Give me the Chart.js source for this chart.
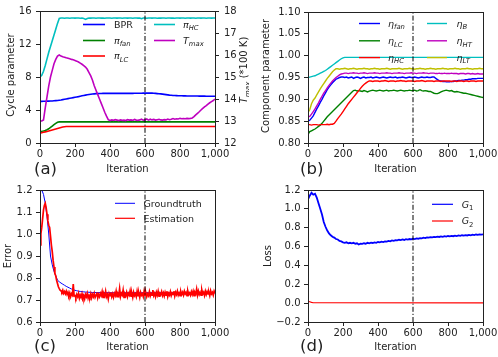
<!DOCTYPE html>
<html><head><meta charset="utf-8">
<script src="https://cdn.jsdelivr.net/npm/chart.js@4/dist/chart.umd.min.js"></script>
<style>
html,body{margin:0;padding:0;background:#fff;}
#wrap{position:relative;width:498px;height:357px;overflow:hidden;background:#fff;}
canvas{position:absolute;display:block;}
</style></head><body>
<div id="wrap">
<canvas id="ca" width="249" height="178" style="left:0;top:0;width:249px;height:178px"></canvas>
<canvas id="cb" width="249" height="178" style="left:249px;top:0;width:249px;height:178px"></canvas>
<canvas id="cc" width="249" height="179" style="left:0;top:178px;width:249px;height:179px"></canvas>
<canvas id="cd" width="249" height="179" style="left:249px;top:178px;width:249px;height:179px"></canvas>
</div>
<script>
// ---------------- DATA ----------------
const SPLIT_ITER = 600;          // dash-dot marker
const STEP = 10;                 // iteration spacing of dense series
const STEP_EST = 5;              // iteration spacing of the noisy estimation series

// (a) cycle parameters (left axis) and Tmax (right axis, *100 K)
const bpr = [
 5.05,5.05,5.06,5.06,5.07,5.08,5.09,5.10,5.12,5.14,
 5.16,5.19,5.22,5.26,5.30,5.34,5.38,5.42,5.46,5.50,
 5.54,5.58,5.62,5.67,5.72,5.76,5.80,5.84,5.88,5.91,
 5.94,5.96,5.98,5.99,6.00,6.00,6.01,6.01,6.01,6.02,
 6.02,6.02,6.02,6.02,6.02,6.02,6.02,6.02,6.02,6.02,
 6.02,6.02,6.02,6.02,6.03,6.03,6.03,6.03,6.03,6.04,
 6.04,6.05,6.05,6.05,6.04,6.03,6.01,5.99,5.97,5.95,
 5.92,5.89,5.86,5.83,5.80,5.78,5.76,5.75,5.74,5.73,
 5.72,5.72,5.71,5.71,5.70,5.70,5.70,5.69,5.69,5.69,
 5.69,5.68,5.68,5.68,5.68,5.67,5.67,5.67,5.67,5.66,
 5.66];
const piFanIter = [0,10,20,30,40,50,60,70,80,90,100,110,1000];
const piFan     = [1.40,1.42,1.46,1.52,1.60,1.72,1.88,2.05,2.22,2.38,2.52,2.56,2.56];
const piLcIter  = [0,10,20,30,40,50,60,70,80,90,100,110,120,130,140,150,1000];
const piLc      = [1.20,1.25,1.30,1.35,1.40,1.46,1.52,1.58,1.64,1.70,1.76,1.82,1.88,1.93,1.97,2.00,2.00];
const piHc = [
 8.0,8.2,8.7,9.4,10.2,11.0,11.7,12.4,13.1,13.8,
 14.5,15.1,15.15,15.15,15.12,15.15,15.15,15.13,15.15,15.15,
 15.14,15.15,15.15,15.13,15.15,15.1,14.98,15.08,15.15,15.14,
 15.15,15.15,15.13,15.15,15.15,15.14,15.15,15.12,15.15,15.15,
 15.15,15.13,15.15,15.15,15.14,15.15,15.15,15.13,15.15,15.15,
 15.14,15.15,15.15,15.12,15.15,15.15,15.14,15.15,15.06,15.15,
 15.15,15.13,15.15,15.15,15.14,15.15,15.15,15.13,15.15,15.14,
 15.15,15.15,15.13,15.15,15.15,15.14,15.15,15.12,15.15,15.15,
 15.14,15.15,15.15,15.13,15.15,15.15,15.14,15.15,15.15,15.13,
 15.15,15.15,15.14,15.15,15.15,15.13,15.15,15.15,15.14,15.15,
 15.15];
const tMax = [
 13.0,13.0,13.05,13.6,14.1,14.6,15.0,15.3,15.6,15.8,
 15.95,16.0,15.95,15.92,15.9,15.87,15.85,15.83,15.8,15.78,
 15.75,15.72,15.68,15.63,15.58,15.52,15.45,15.35,15.2,15.05,
 14.85,14.6,14.4,14.2,14.0,13.8,13.6,13.4,13.22,13.06,
 13.02,13.05,13.03,13.06,13.04,13.02,13.05,13.03,13.04,13.02,
 13.06,13.04,13.05,13.03,13.07,13.04,13.03,13.05,13.08,13.04,
 13.05,13.09,13.04,13.08,13.05,13.07,13.04,13.06,13.08,13.05,
 13.04,13.06,13.05,13.09,13.06,13.08,13.11,13.08,13.1,13.09,
 13.12,13.1,13.11,13.1,13.12,13.11,13.12,13.14,13.2,13.28,
 13.35,13.42,13.5,13.57,13.64,13.7,13.77,13.83,13.88,13.93,
 14.0];

// (b) component parameters
const etaFan = [
 0.850,0.852,0.857,0.862,0.870,0.878,0.885,0.893,0.900,0.908,
 0.915,0.922,0.928,0.933,0.938,0.942,0.946,0.948,0.950,0.951,
 0.951,0.950,0.951,0.949,0.950,0.951,0.948,0.950,0.951,0.950,
 0.948,0.950,0.951,0.949,0.950,0.950,0.951,0.949,0.950,0.951,
 0.950,0.949,0.950,0.951,0.950,0.949,0.950,0.951,0.950,0.950,
 0.951,0.949,0.950,0.950,0.951,0.950,0.949,0.950,0.951,0.950,
 0.950,0.951,0.950,0.949,0.950,0.951,0.950,0.950,0.951,0.950,
 0.950,0.951,0.951,0.948,0.945,0.943,0.942,0.941,0.941,0.940,
 0.940,0.940,0.941,0.941,0.942,0.942,0.943,0.943,0.944,0.944,
 0.945,0.945,0.946,0.946,0.947,0.947,0.947,0.948,0.948,0.948,
 0.948];
const etaLc = [
 0.820,0.826,0.828,0.830,0.832,0.835,0.838,0.841,0.845,0.850,
 0.855,0.860,0.864,0.868,0.872,0.876,0.880,0.884,0.888,0.892,
 0.896,0.900,0.904,0.908,0.912,0.916,0.920,0.921,0.919,0.920,
 0.919,0.918,0.920,0.919,0.917,0.919,0.920,0.921,0.920,0.919,
 0.920,0.921,0.920,0.919,0.920,0.921,0.919,0.920,0.920,0.921,
 0.920,0.919,0.920,0.921,0.920,0.919,0.920,0.920,0.921,0.920,
 0.920,0.921,0.919,0.920,0.922,0.920,0.919,0.920,0.919,0.918,
 0.918,0.916,0.914,0.913,0.913,0.915,0.917,0.919,0.920,0.921,
 0.920,0.919,0.920,0.918,0.917,0.918,0.917,0.916,0.915,0.914,
 0.914,0.913,0.912,0.911,0.910,0.909,0.908,0.907,0.906,0.905,
 0.904];
const etaHc = [
 0.842,0.842,0.841,0.842,0.842,0.842,0.841,0.842,0.842,0.842,
 0.842,0.843,0.842,0.843,0.843,0.845,0.850,0.856,0.861,0.866,
 0.872,0.878,0.884,0.890,0.895,0.900,0.905,0.910,0.915,0.920,
 0.925,0.930,0.934,0.937,0.940,0.942,0.942,0.941,0.942,0.942,
 0.942,0.941,0.942,0.942,0.943,0.942,0.941,0.942,0.942,0.942,
 0.941,0.942,0.942,0.943,0.942,0.942,0.941,0.942,0.942,0.942,
 0.942,0.941,0.942,0.942,0.942,0.943,0.942,0.941,0.942,0.942,
 0.942,0.942,0.941,0.942,0.942,0.942,0.941,0.942,0.942,0.942,
 0.942,0.942,0.941,0.942,0.942,0.941,0.942,0.942,0.942,0.941,
 0.942,0.942,0.941,0.942,0.942,0.942,0.941,0.942,0.942,0.942,
 0.942];
const etaBIter = [0,10,20,30,40,50,60,70,80,90,100,110,120,130,140,150,160,170,180,190,200,210,1000];
const etaB     = [0.950,0.951,0.952,0.953,0.954,0.956,0.958,0.960,0.962,0.964,0.966,0.969,0.972,0.975,0.978,0.981,0.984,0.987,0.990,0.993,0.995,0.996,0.996];
const etaHt = [
 0.860,0.861,0.866,0.872,0.878,0.885,0.892,0.900,0.907,0.914,
 0.920,0.926,0.932,0.937,0.942,0.946,0.950,0.953,0.956,0.958,
 0.959,0.960,0.960,0.959,0.960,0.960,0.961,0.960,0.960,0.959,
 0.960,0.960,0.961,0.960,0.959,0.960,0.960,0.960,0.961,0.960,
 0.960,0.959,0.960,0.960,0.960,0.961,0.960,0.960,0.959,0.960,
 0.960,0.960,0.961,0.960,0.960,0.959,0.960,0.960,0.960,0.961,
 0.960,0.960,0.959,0.960,0.960,0.960,0.961,0.960,0.960,0.959,
 0.960,0.960,0.960,0.959,0.959,0.960,0.959,0.959,0.960,0.959,
 0.959,0.959,0.960,0.959,0.959,0.959,0.958,0.959,0.959,0.959,
 0.958,0.959,0.959,0.958,0.959,0.958,0.958,0.959,0.958,0.958,
 0.958];
const etaLt = [
 0.870,0.876,0.890,0.898,0.903,0.910,0.917,0.924,0.930,0.936,
 0.942,0.948,0.953,0.958,0.963,0.967,0.970,0.970,0.969,0.970,
 0.970,0.971,0.970,0.969,0.970,0.970,0.971,0.970,0.969,0.970,
 0.970,0.970,0.971,0.970,0.970,0.969,0.970,0.970,0.971,0.970,
 0.970,0.969,0.970,0.970,0.970,0.971,0.970,0.969,0.970,0.970,
 0.970,0.970,0.971,0.970,0.969,0.970,0.970,0.970,0.971,0.970,
 0.970,0.969,0.970,0.970,0.971,0.970,0.970,0.969,0.970,0.970,
 0.971,0.970,0.970,0.969,0.970,0.970,0.970,0.971,0.970,0.970,
 0.969,0.970,0.970,0.970,0.971,0.970,0.970,0.969,0.970,0.970,
 0.970,0.971,0.970,0.970,0.969,0.970,0.970,0.970,0.971,0.970,
 0.970];

// (c) error
const truthIter = [0,10,20,30,40,50,60,70,80,90,100,110,120,130,140,150,160,170,180,190,200,210,220,230,240,250,260,270,280,290,300,400,600,800,1000];
const groundtruth = [1.19,1.20,1.18,1.14,1.08,1.00,0.90,0.86,0.83,0.81,0.790,0.783,0.777,0.772,0.767,0.762,0.758,0.754,0.750,0.747,0.744,0.742,0.740,0.739,0.738,0.737,0.736,0.736,0.735,0.735,0.734,0.733,0.733,0.733,0.733];
const estimation = [
 0.95,1.00,1.03,1.07,1.11,1.13,1.14,1.12,1.09,1.06,1.04,1.03,0.99,0.95,0.92,0.88,0.85,0.82,0.81,0.79,
 0.775,0.760,0.752,0.745,0.742,0.736,0.745,0.730,0.738,0.728,0.740,0.725,0.735,0.720,0.732,0.715,0.728,0.722,0.772,0.718,
 0.720,0.710,0.725,0.715,0.730,0.708,0.722,0.712,0.728,0.710,0.720,0.705,0.725,0.715,0.730,0.708,0.720,0.712,0.728,0.710,
 0.725,0.715,0.730,0.712,0.722,0.735,0.710,0.725,0.715,0.730,0.720,0.738,0.712,0.728,0.718,0.740,0.715,0.725,0.705,0.730,
 0.720,0.735,0.715,0.728,0.712,0.730,0.720,0.740,0.715,0.728,0.720,0.752,0.715,0.730,0.722,0.745,0.712,0.728,0.720,0.735,
 0.715,0.730,0.722,0.742,0.718,0.730,0.712,0.735,0.720,0.728,0.715,0.740,0.720,0.730,0.712,0.735,0.722,0.728,0.715,0.740,
 0.720,0.732,0.715,0.728,0.720,0.738,0.718,0.730,0.722,0.745,0.720,0.730,0.715,0.735,0.722,0.740,0.718,0.730,0.725,0.738,
 0.720,0.732,0.718,0.735,0.722,0.740,0.715,0.730,0.722,0.738,0.720,0.732,0.725,0.740,0.718,0.735,0.725,0.740,0.722,0.732,
 0.720,0.738,0.725,0.735,0.722,0.740,0.728,0.735,0.720,0.740,0.725,0.732,0.722,0.738,0.725,0.740,0.720,0.735,0.728,0.750,
 0.722,0.740,0.725,0.735,0.722,0.745,0.728,0.735,0.720,0.740,0.725,0.738,0.728,0.735,0.720,0.742,0.728,0.735,0.722,0.740,
 0.730];

// (d) loss
const g1 = [
 1.10,1.14,1.17,1.15,1.16,1.12,1.06,1.00,0.94,0.86,
 0.81,0.77,0.74,0.72,0.705,0.695,0.68,0.675,0.66,0.655,
 0.645,0.64,0.645,0.635,0.64,0.635,0.64,0.63,0.635,0.622,
 0.63,0.628,0.635,0.63,0.64,0.635,0.642,0.638,0.645,0.64,
 0.648,0.645,0.652,0.648,0.655,0.652,0.66,0.655,0.665,0.66,
 0.668,0.665,0.672,0.668,0.675,0.67,0.678,0.674,0.68,0.676,
 0.684,0.68,0.686,0.683,0.69,0.688,0.694,0.69,0.698,0.695,
 0.70,0.698,0.703,0.70,0.705,0.702,0.708,0.704,0.71,0.706,
 0.712,0.708,0.714,0.71,0.716,0.712,0.718,0.714,0.72,0.716,
 0.722,0.718,0.724,0.72,0.726,0.722,0.728,0.724,0.73,0.726,
 0.73];
const g2Iter = [0,10,20,30,1000];
const g2     = [0.02,0.015,0.008,0.004,0.003];

// ---------------- STYLE / HELPERS ----------------
const FONT = '"DejaVu Sans", "Liberation Sans", sans-serif';
const TXT = '#222';
const C = {b:'#0000ff', g:'#008000', r:'#ff0000', c:'#00bfbf', m:'#bf00bf', y:'#bfbf00'};
Chart.defaults.font.family = FONT;

function pts(vals, step){ return vals.map((v,i)=>({x:i*step, y:v})); }
function zip(xs, ys){ return xs.map((x,i)=>({x:x, y:ys[i]})); }
function line(label, data, color, width, order, axis){
  return {label, data, borderColor:color, backgroundColor:color, borderWidth:width,
    pointRadius:0, tension:0, fill:false, order, yAxisID: axis||'y'};
}
function vline(lo, hi){
  return {label:'split', data:[{x:SPLIT_ITER,y:lo},{x:SPLIT_ITER,y:hi}], borderColor:'#000',
    borderWidth:1, borderDash:[5,2,1.2,2], pointRadius:0, order:0, yAxisID:'y'};
}
function xScale(h){
  return {type:'linear', min:0, max:1000,
    ticks:{stepSize:200, color:TXT, font:{family:FONT,size:10}, padding:1, maxRotation:0, autoSkip:false},
    grid:{drawOnChartArea:false, drawTicks:true, tickLength:4, color:'#222', lineWidth:1},
    border:{display:false},
    afterFit(s){ s.height=h; s.paddingLeft=0; s.paddingRight=0; }};
}
function yScale(min, max, step, fmt, w, pos, pad){
  return {type:'linear', position:pos||'left', min, max,
    ticks:{stepSize:step, color:TXT, font:{family:FONT,size:10}, padding:pad||4, callback:fmt, autoSkip:false},
    grid:{drawOnChartArea:false, drawTicks:true, tickLength:4, color:'#222', lineWidth:1},
    border:{display:false},
    afterFit(s){ s.width=w; s.paddingTop=0; s.paddingBottom=0; }};
}
const fInt = v => String(Math.round(v));
const f2 = v => v.toFixed(2);
const f1 = v => { const s = (Math.abs(v)<1e-9?0:v).toFixed(1); return s.replace('-', '\u2212'); };

function fontFor(st, size){
  const sub = st.indexOf('s')>=0, it = st.indexOf('i')>=0;
  return (it?'italic ':'') + (sub? size*0.72 : size).toFixed(2) + 'px ' + FONT;
}
function richWidth(ctx, parts, size){
  let w=0; for(const p of parts){ ctx.font=fontFor(p[1],size); w+=ctx.measureText(p[0]).width; } return w;
}
function drawRich(ctx, parts, x, yMid, size, center){
  ctx.textBaseline='alphabetic'; ctx.textAlign='left'; ctx.fillStyle=TXT;
  let cx = center ? x - richWidth(ctx,parts,size)/2 : x;
  const base = yMid + size*0.36;
  for(const p of parts){
    const sub = p[1].indexOf('s')>=0;
    ctx.font = fontFor(p[1], size);
    ctx.fillText(p[0], cx, base + (sub? size*0.24 : 0));
    cx += ctx.measureText(p[0]).width;
  }
}
function decor(d){
  return {id:'decor', afterDraw(chart){
    const ctx = chart.ctx, a = chart.chartArea;
    ctx.save();
    ctx.strokeStyle='#222'; ctx.lineWidth=1;
    ctx.strokeRect(Math.round(a.left)+0.5, Math.round(a.top)+0.5, Math.round(a.right)-Math.round(a.left), Math.round(a.bottom)-Math.round(a.top));
    ctx.translate(-d.ox, -d.oy);
    for(const t of d.titles){
      if(t.rot){
        ctx.save(); ctx.translate(t.x, t.y); ctx.rotate(-Math.PI/2);
        drawRich(ctx, t.parts, 0, 0, t.size, true); ctx.restore();
      } else drawRich(ctx, t.parts, t.x, t.y, t.size, true);
    }
    for(const it of d.legend){
      ctx.beginPath(); ctx.strokeStyle=it.color; ctx.lineWidth=it.w; ctx.setLineDash([]);
      ctx.moveTo(it.x1, it.y); ctx.lineTo(it.x2, it.y); ctx.stroke();
      drawRich(ctx, it.parts, it.tx, it.y, 9.5, false);
    }
    ctx.restore();
  }};
}
function base(pad){
  return {responsive:false, animation:false, events:[], devicePixelRatio:1,
    layout:{padding:pad}, plugins:{legend:{display:false}, tooltip:{enabled:false}}};
}

// ---------------- (a) ----------------
new Chart(document.getElementById('ca'), {
  type:'line',
  data:{datasets:[
    vline(0,16),
    line('Tmax', pts(tMax,STEP), C.m, 1.6, 1, 'y2'),
    line('piHC', pts(piHc,STEP), C.c, 1.6, 2),
    line('piLC', zip(piLcIter,piLc), C.r, 1.6, 3),
    line('piFan', zip(piFanIter,piFan), C.g, 1.6, 4),
    line('BPR', pts(bpr,STEP), C.b, 1.6, 5)
  ]},
  options:Object.assign(base({left:0,right:0,top:11,bottom:0}), {scales:{
    x:xScale(35), y:yScale(0,16,4,fInt,40,'left',4.5), y2:yScale(12,18,1,fInt,34,'right',5)}}),
  plugins:[decor({ox:0, oy:0,
    titles:[
      {parts:[['Cycle parameter','n']], x:10, y:75, rot:true, size:10},
      {parts:[['T','i'],['max','si'],[' (*100 K)','n']], x:243.5, y:70, rot:true, size:10},
      {parts:[['Iteration','n']], x:127.5, y:168, size:10},
      {parts:[['(a)','n']], x:45.5, y:168.5, size:16.5}],
    legend:[
      {x1:83,x2:105,tx:114,y:24.5,color:C.b,w:1.6,parts:[['BPR','n']]},
      {x1:83,x2:105,tx:114,y:40.5,color:C.g,w:1.6,parts:[['\u03c0','i'],['fan','si']]},
      {x1:83,x2:105,tx:114,y:56,color:C.r,w:1.6,parts:[['\u03c0','i'],['LC','si']]},
      {x1:154,x2:175,tx:183,y:24.5,color:C.c,w:1.6,parts:[['\u03c0','i'],['HC','si']]},
      {x1:154,x2:175,tx:183,y:40.5,color:C.m,w:1.6,parts:[['T','i'],['max','si']]}]})]
});

// ---------------- (b) ----------------
new Chart(document.getElementById('cb'), {
  type:'line',
  data:{datasets:[
    vline(0.8,1.1),
    line('etaLT', pts(etaLt,STEP), C.y, 1.4, 1),
    line('etaHT', pts(etaHt,STEP), C.m, 1.4, 2),
    line('etaB', zip(etaBIter,etaB), C.c, 1.4, 3),
    line('etaHC', pts(etaHc,STEP), C.r, 1.4, 4),
    line('etaLC', pts(etaLc,STEP), C.g, 1.4, 5),
    line('etaFan', pts(etaFan,STEP), C.b, 1.4, 6)
  ]},
  options:Object.assign(base({left:0,right:15,top:12,bottom:0}), {scales:{
    x:xScale(35), y:yScale(0.8,1.1,0.05,f2,59,'left',3.5)}}),
  plugins:[decor({ox:249, oy:0,
    titles:[
      {parts:[['Component parameter','n']], x:265, y:76, rot:true, size:10},
      {parts:[['Iteration','n']], x:395.5, y:168, size:10},
      {parts:[['(b)','n']], x:311.7, y:168.5, size:16.5}],
    legend:[
      {x1:359,x2:380,tx:388,y:23.5,color:C.b,w:1.4,parts:[['\u03b7','i'],['fan','si']]},
      {x1:359,x2:380,tx:388,y:40.8,color:C.g,w:1.4,parts:[['\u03b7','i'],['LC','si']]},
      {x1:359,x2:380,tx:388,y:57.6,color:C.r,w:1.4,parts:[['\u03b7','i'],['HC','si']]},
      {x1:427,x2:447,tx:456.5,y:23.5,color:C.c,w:1.4,parts:[['\u03b7','i'],['B','si']]},
      {x1:427,x2:447,tx:456.5,y:40.8,color:C.m,w:1.4,parts:[['\u03b7','i'],['HT','si']]},
      {x1:427,x2:447,tx:456.5,y:57.6,color:C.y,w:1.4,parts:[['\u03b7','i'],['LT','si']]}]})]
});

// ---------------- (c) ----------------
new Chart(document.getElementById('cc'), {
  type:'line',
  data:{datasets:[
    vline(0.6,1.2),
    line('Estimation', pts(estimation,STEP_EST), C.r, 1.7, 1),
    line('Groundtruth', zip(truthIter,groundtruth), C.b, 1, 2)
  ]},
  options:Object.assign(base({left:0,right:34,top:12,bottom:0}), {scales:{
    x:xScale(35), y:yScale(0.6,1.2,0.1,f1,40,'left',3.5)}}),
  plugins:[decor({ox:0, oy:178,
    titles:[
      {parts:[['Error','n']], x:7, y:256, rot:true, size:10},
      {parts:[['Iteration','n']], x:127.5, y:346.5, size:10},
      {parts:[['(c)','n']], x:45, y:345, size:16.5}],
    legend:[
      {x1:115,x2:135,tx:143.5,y:203.3,color:C.b,w:1,parts:[['Groundtruth','n']]},
      {x1:115,x2:135,tx:143.5,y:218.3,color:C.r,w:1.2,parts:[['Estimation','n']]}]})]
});

// ---------------- (d) ----------------
new Chart(document.getElementById('cd'), {
  type:'line',
  data:{datasets:[
    vline(-0.2,1.2),
    line('G2', zip(g2Iter,g2), C.r, 1.2, 1),
    line('G1', pts(g1,STEP), C.b, 1.8, 2)
  ]},
  options:Object.assign(base({left:0,right:15,top:12,bottom:0}), {scales:{
    x:xScale(35), y:yScale(-0.2,1.2,0.2,f1,59,'left',3.5)}}),
  plugins:[decor({ox:249, oy:178,
    titles:[
      {parts:[['Loss','n']], x:267, y:256, rot:true, size:10},
      {parts:[['Iteration','n']], x:395.5, y:346.5, size:10},
      {parts:[['(d)','n']], x:311.7, y:345, size:16.5}],
    legend:[
      {x1:432,x2:453,tx:461.7,y:204.3,color:C.b,w:1.2,parts:[['G','i'],['1','s']]},
      {x1:432,x2:453,tx:461.7,y:221,color:C.r,w:1.2,parts:[['G','i'],['2','s']]}]})]
});
</script>
</body></html>
